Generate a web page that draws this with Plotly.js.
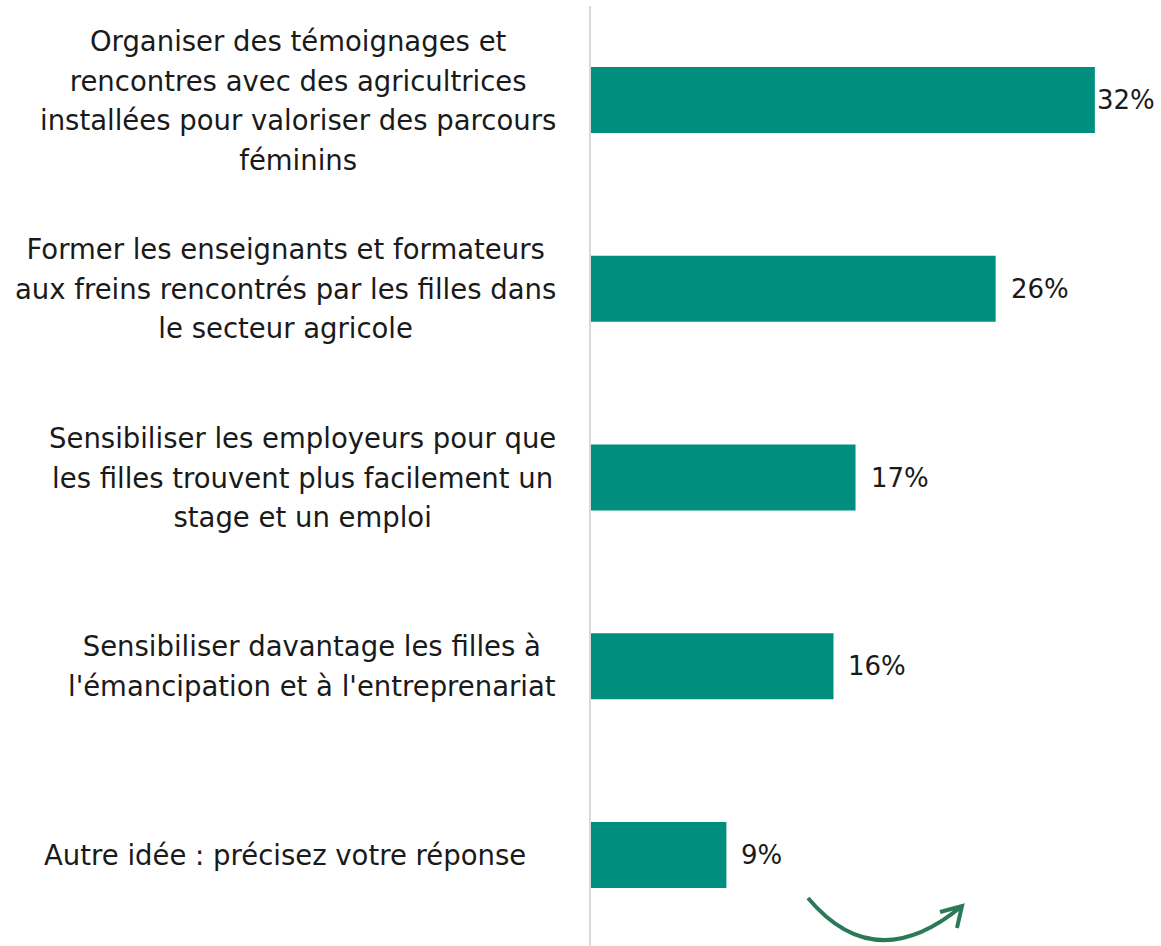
<!DOCTYPE html>
<html>
<head>
<meta charset="utf-8">
<script src="https://cdn.plot.ly/plotly-3.0.1.min.js"></script>
<style>
  body { margin: 0; background: #fff; }
  #chart { width: 1161px; height: 946px; }
</style>
</head>
<body>
<div id="chart"></div>
<script>
// Libellés des propositions (retours à la ligne comme dans l'original)
var propositions = [
	'Organiser des témoignages et<br>rencontres avec des agricultrices<br>installées pour valoriser des parcours<br>féminins',
	'Former les enseignants et formateurs<br>aux freins rencontrés par les filles dans<br>le secteur agricole',
	'Sensibiliser les employeurs pour que<br>les filles trouvent plus facilement un<br>stage et un emploi',
	'Sensibiliser davantage les filles à<br>l\'émancipation et à l\'entreprenariat',
	'Autre idée : précisez votre réponse'
];
var parts = [32, 25.7, 16.8, 15.4, 8.6];
// Étiquettes affichées à droite des barres
var etiquettes = ['32%', '26%', '17%', '16%', '9%'];

var VERT = '#008f7e';
var FONT = '"DejaVu Sans", "Open Sans", sans-serif';

// interligne plus large que celui de plotly : police de base plus grande, texte réduit dans un span
function interligne(txt, px){
	return txt.split('<br>').map(function(l){
		return '<span style="font-size:' + px + 'px">' + l + '</span>';
	}).join('<br>');
}

var data = [{
	type: 'bar',
	orientation: 'h',
	x: parts,
	y: propositions,
	marker: { color: VERT },
	hoverinfo: 'skip'
}];

var annotations = [];
// libellés à gauche, centrés dans leur bloc
propositions.forEach(function(p, i){
	annotations.push({
		xref: 'x', yref: 'y',
		x: 0, y: p,
		xanchor: 'right', yanchor: 'middle',
		xshift: i === propositions.length - 1 ? -63 : -33,
		align: 'center',
		showarrow: false,
		text: interligne(p, 27.5),
		font: { family: FONT, size: 30.5, color: '#1a1a1a' }
	});
});
// valeurs
parts.forEach(function(v, i){
	annotations.push({
		xref: 'x', yref: 'y',
		x: v, y: propositions[i],
		xanchor: 'left', yanchor: 'middle',
		xshift: i === 0 ? 0 : 13,
		showarrow: false,
		text: etiquettes[i],
		font: { family: FONT, size: 26, color: '#1a1a1a' }
	});
});

var layout = {
	width: 1161,
	height: 946,
	margin: { l: 591, r: 0, t: 6, b: 0 },
	paper_bgcolor: '#fff',
	plot_bgcolor: '#fff',
	showlegend: false,
	bargap: 0.65,
	xaxis: {
		range: [0, 36.2],
		visible: false,
		fixedrange: true
	},
	yaxis: {
		type: 'category',
		range: [4.482, -0.498],
		showticklabels: false,
		showgrid: false,
		zeroline: false,
		showline: true,
		linecolor: '#d9d9d9',
		linewidth: 2,
		ticks: ''
	},
	annotations: annotations,
	shapes: [{
		// flèche décorative en bas
		type: 'path',
		xref: 'paper', yref: 'paper',
		path: 'M 0.3807 0.0511 Q 0.4982 -0.034 0.6509 0.0426 M 0.6123 0.0362 L 0.6509 0.0426 L 0.642 0.0191',
		line: { color: '#2b7a57', width: 4 },
		layer: 'above'
	}]
};

Plotly.newPlot('chart', data, layout, { staticPlot: true, displayModeBar: false });
</script>
</body>
</html>
